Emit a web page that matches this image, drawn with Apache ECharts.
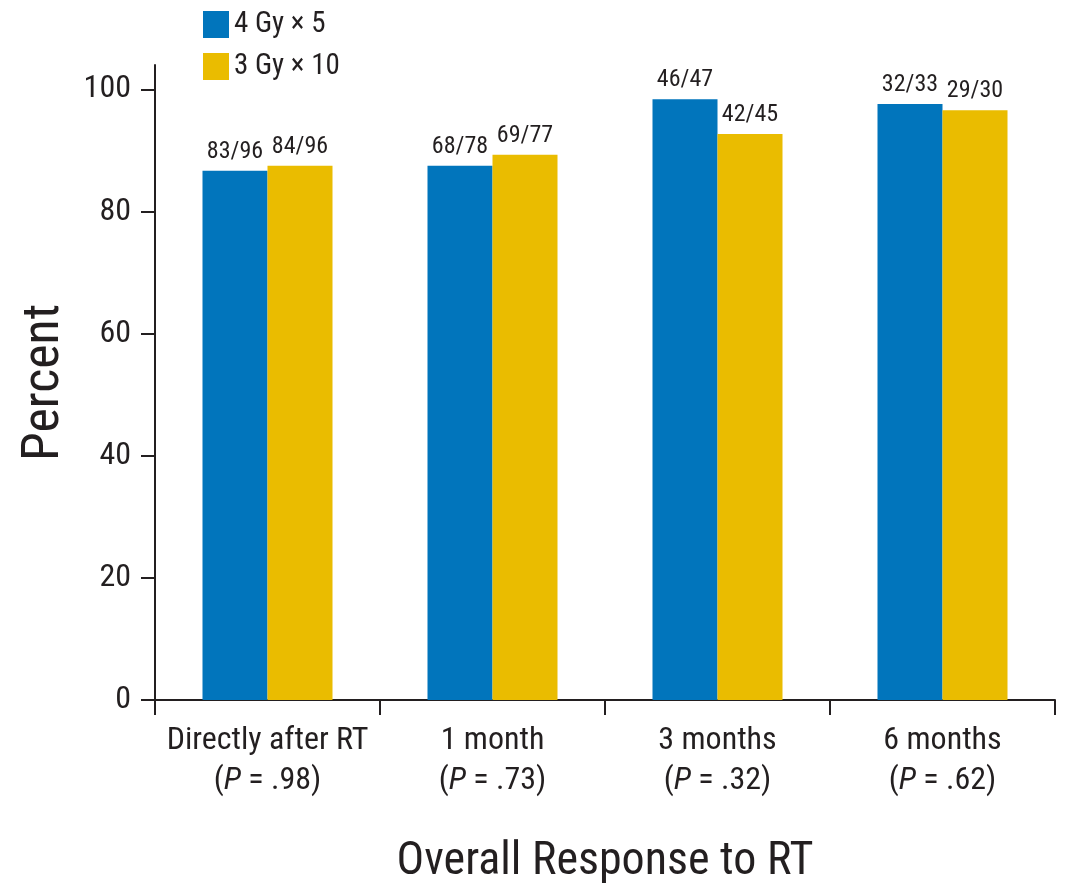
<!DOCTYPE html>
<html>
<head>
<meta charset="utf-8">
<script src="https://cdn.jsdelivr.net/npm/echarts@6/dist/echarts.min.js"></script>
<style>html,body{margin:0;padding:0;background:#fff}#c{width:1076px;height:890px}</style>
</head>
<body>
<div id="c"></div>
<script>
const categories = ['Directly after RT', '1 month', '3 months', '6 months'];
const pValues = ['.98', '.73', '.32', '.62'];
const seriesNames = ['4 Gy \u00d7 5', '3 Gy \u00d7 10'];
const blueValues = [86.7, 87.5, 98.4, 97.6];
const yellowValues = [87.5, 89.3, 92.7, 96.6];
const blueLabels = ['83/96', '68/78', '46/47', '32/33'];
const yellowLabels = ['84/96', '69/77', '42/45', '29/30'];
const yTicks = [0, 20, 40, 60, 80, 100];

const FONT = '"Liberation Sans Narrow", "Arial Narrow", "Roboto Condensed", sans-serif';
const INK = '#231F20';
const chart = echarts.init(document.getElementById('c'));

function mkSeries(name, vals, labels, color) {
  return {
    name: name, type: 'bar', barWidth: 65, barGap: '0%',
    itemStyle: { color: color },
    data: vals,
    label: {
      show: true, position: 'top', distance: 7,
      color: INK, fontFamily: FONT, fontSize: 24,
      formatter: p => labels[p.dataIndex]
    }
  };
}

chart.setOption({
  animation: false,
  textStyle: { fontFamily: FONT, color: INK },
  legend: {
    left: 203, top: 10, padding: 0, orient: 'vertical', itemWidth: 26, itemHeight: 27, itemGap: 13,
    icon: 'rect',
    textStyle: { fontFamily: FONT, fontSize: 29, color: INK, padding: [0, 0, 0, 0] },
    data: seriesNames
  },
  grid: { left: 155, right: 21, top: 65, bottom: 186 },
  xAxis: {
    type: 'category', data: categories,
    axisLine: { lineStyle: { color: INK, width: 2 } },
    axisTick: { show: true, length: 15, lineStyle: { color: INK, width: 2 } },
    axisLabel: {
      interval: 0, margin: 21, color: INK, fontFamily: FONT, fontSize: 32, lineHeight: 40,
      formatter: (v, i) => v + '\n({i|P} = ' + pValues[i] + ')',
      rich: { i: { fontStyle: 'italic', fontFamily: FONT, fontSize: 32, color: INK, lineHeight: 40 } }
    },
    name: 'Overall Response to RT', nameLocation: 'middle', nameGap: 139,
    nameTextStyle: { fontFamily: FONT, fontSize: 46, color: INK }
  },
  yAxis: {
    type: 'value', min: 0, max: 104, interval: 20,
    splitLine: { show: false },
    axisLine: { show: true, lineStyle: { color: INK, width: 2 } },
    axisTick: { show: true, length: 14, customValues: yTicks, lineStyle: { color: INK, width: 2 } },
    axisLabel: { margin: 24, color: INK, fontFamily: FONT, fontSize: 32, customValues: yTicks },
    name: 'Percent', nameLocation: 'middle', nameGap: 84, nameRotate: 90,
    nameTextStyle: { fontFamily: FONT, fontSize: 52, color: INK }
  },
  series: [
    mkSeries(seriesNames[0], blueValues, blueLabels, '#0175BC'),
    mkSeries(seriesNames[1], yellowValues, yellowLabels, '#EABC00')
  ]
});
</script>
</body>
</html>
